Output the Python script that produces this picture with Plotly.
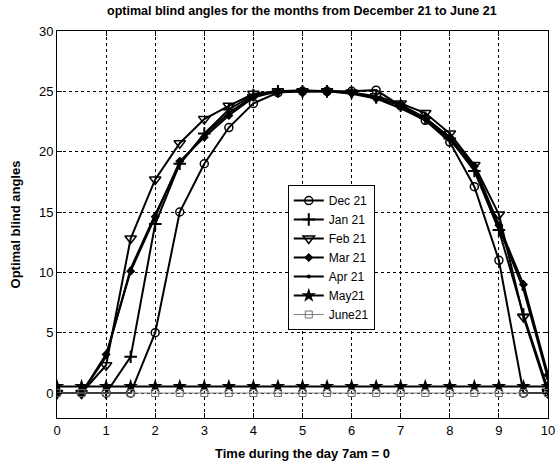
import plotly.graph_objects as go

# Hours after 7am, sampled every half hour
time_h = [0, 0.5, 1, 1.5, 2, 2.5, 3, 3.5, 4, 4.5, 5, 5.5, 6, 6.5, 7, 7.5, 8, 8.5, 9, 9.5, 10]

dec21 = [0, 0, 0, 0, 5, 15, 19, 22, 24, 24.9, 25, 25, 25, 25.1, 23.8, 22.6, 20.8, 17.1, 11, 0, 0]
jan21 = [0, 0, 0, 3, 14, 19, 21.5, 23.5, 24.7, 25, 25, 25, 24.9, 24.5, 23.8, 22.8, 21.1, 18.4, 13.5, 6.5, 0.3]
feb21 = [0, 0, 2.3, 12.8, 17.7, 20.7, 22.7, 23.8, 24.8, 25, 25, 25, 24.9, 24.6, 24, 23.2, 21.5, 18.9, 14.8, 6.3, 0]
mar21 = [0, 0, 3.2, 10.1, 14.6, 19.2, 21.2, 23, 24.5, 25, 25, 25, 24.9, 24.4, 23.9, 22.8, 21.2, 18.8, 13.9, 9, 1.5]
apr21 = [0, 0, 3.0, 10.3, 14.8, 19.0, 21.4, 23.2, 24.6, 25, 25.1, 25, 24.8, 24.4, 23.6, 22.6, 21.0, 18.6, 13.7, 8.6, 1.2]
may21 = [0.55] * 21
jun21 = [0] * 21

series = [
    ("Dec 21", dec21, dict(symbol="circle-open", size=8, color="black", line=dict(width=1.5, color="black")), "black", 2),
    ("Jan 21", jan21, dict(symbol="cross-thin", size=9, color="black", line=dict(width=2, color="black")), "black", 2),
    ("Feb 21", feb21, dict(symbol="triangle-down-open", size=10, color="black", line=dict(width=1.5, color="black")), "black", 2),
    ("Mar 21", mar21, dict(symbol="diamond", size=7, color="black"), "black", 2),
    ("Apr 21", apr21, dict(symbol="circle", size=4, color="black"), "black", 2),
    ("May21", may21, dict(symbol="star", size=11, color="black"), "black", 2),
    ("June21", jun21, dict(symbol="square-open", size=7, color="#707070", line=dict(width=1, color="#707070")), "#808080", 1),
]

fig = go.Figure()
for name, vals, marker, lc, lw in series:
    fig.add_trace(go.Scatter(
        x=time_h, y=vals, name=name, mode="lines+markers",
        line=dict(color=lc, width=lw), marker=marker,
    ))

font = "Liberation Sans, Arial, sans-serif"
axis_common = dict(
    showline=True, linecolor="black", linewidth=1, mirror="ticks",
    ticks="inside", ticklen=5, tickcolor="black", automargin=False,
    showgrid=True, gridcolor="black", gridwidth=1, griddash="3px,3px",
    zeroline=False, tickfont=dict(family=font, size=13, color="black"),
)

fig.update_layout(
    width=560, height=461,
    margin=dict(l=57, r=12, t=31, b=43),
    paper_bgcolor="white", plot_bgcolor="white",
    title=dict(text="<b>optimal blind angles for the months from December 21 to June 21</b>",
               x=0.539, xanchor="center", y=0.978, yanchor="middle",
               font=dict(family=font, size=12.5, color="black")),
    xaxis=dict(range=[0, 10], tickvals=list(range(0, 11)),
               title=dict(text="<b>Time during the day 7am = 0</b>",
                          font=dict(family=font, size=13, color="black")),
               **axis_common),
    yaxis=dict(range=[-2.07, 30], tickvals=[0, 5, 10, 15, 20, 25, 30],
               title=dict(text="<b>Optimal blind angles</b>",
                          font=dict(family=font, size=13, color="black")),
               **axis_common),
    legend=dict(x=0.47, y=0.602, xanchor="left", yanchor="top",
                bgcolor="white", bordercolor="black", borderwidth=1,
                font=dict(family=font, size=12, color="black"),
                itemwidth=30, tracegroupgap=0),
    showlegend=True,
)

fig.write_html("out.html")
